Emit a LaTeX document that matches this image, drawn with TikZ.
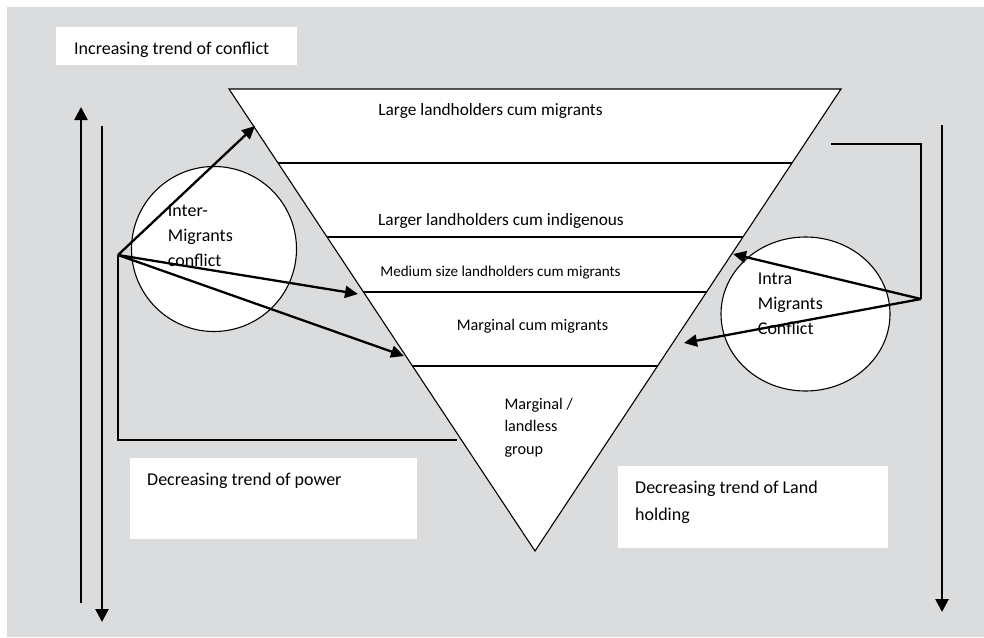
\documentclass[tikz,border=0pt]{standalone}
\usepackage{fontspec}
\setmainfont{Carlito}
\usetikzlibrary{arrows.meta,calc,shapes.geometric}
\definecolor{bg}{RGB}{219,220,222}
\begin{document}
\begin{tikzpicture}[x=1pt,y=-1pt,
  thinln/.style={line width=1.1pt,draw=black},
  bigarr/.style={line width=2.6pt,-{Triangle[length=13pt,width=13pt]}},
  arr/.style={line width=2.3pt,-{Triangle[length=13pt,width=12pt]}},
  wbox/.style={fill=white,draw=none,inner sep=0pt,anchor=north west},
  lbl/.style={inner sep=0pt,anchor=base west,align=left},
  big/.style={font=\fontsize{18}{25}\selectfont},
]
\useasboundingbox (0,0) rectangle (984,637);
\fill[bg] (7,7) rectangle (984,637);

% white text boxes
\node[wbox,minimum width=241pt,minimum height=38pt] (conflictbox) at (56,27) {};
\node[wbox,minimum width=287pt,minimum height=81pt] (powerbox) at (130,458) {};
\node[wbox,minimum width=270pt,minimum height=82pt] (landbox) at (618,466) {};
\node[lbl,big] (conflicttxt) at (74,54) {Increasing trend of conflict};
\node[lbl,big] (powertxt) at (147,485.7) {Decreasing trend of power};
\node[lbl,font=\fontsize{18}{26.7}\selectfont] (landtxt) at (635,520) {Decreasing trend of Land\\holding};

% inverted triangle
\coordinate (tA) at (229,89);
\coordinate (tB) at (841,89);
\coordinate (tC) at (535,551);
\draw[thinln,fill=white] (tA) -- (tB) -- (tC) -- cycle;
\foreach \f/\n in {0.1602/1,0.3203/2,0.4394/3,0.5996/4}{
  \coordinate (l\n a) at ($(tA)!\f!(tC)$);
  \coordinate (l\n b) at ($(tB)!\f!(tC)$);
  \draw[thinln] (l\n a) -- (l\n b);
}
\node[inner sep=0pt,anchor=base,font=\fontsize{17.3}{22}\selectfont] (lay1) at (490.5,115.7) {Large landholders cum migrants};
\node[inner sep=0pt,anchor=base,font=\fontsize{17.3}{22}\selectfont] (lay2) at (501,225.7) {Larger landholders cum indigenous};
\node[inner sep=0pt,anchor=base,font=\fontsize{15.1}{20}\selectfont] (lay3) at (500.5,276.7) {Medium size landholders cum migrants};
\node[inner sep=0pt,anchor=base,font=\fontsize{16.2}{20}\selectfont] (lay4) at (532.5,330) {Marginal cum migrants};
\node[lbl,font=\fontsize{16.2}{22.4}\selectfont] (lay5) at (504.3,454) {Marginal /\\landless\\group};

% circles
\node[draw,line width=1.1pt,fill=white,circle,minimum size=165pt,inner sep=0pt] (interC) at (214,249) {};
\node[draw,line width=1.1pt,fill=white,ellipse,minimum width=169pt,minimum height=154pt,inner sep=0pt] (intraC) at (805.5,314) {};
\node[lbl,big] (intertxt) at (167.7,266) {Inter-\\Migrants\\conflict};
\node[lbl,big] (intratxt) at (757.7,334.3) {Intra\\Migrants\\Conflict};

% vertical trend arrows
\coordinate (upS) at (81,603);
\coordinate (upE) at (81,107);
\coordinate (dnS) at (102,126);
\coordinate (dnE) at (102,622);
\coordinate (rdS) at (942,125);
\coordinate (rdE) at (942,612);
\draw[bigarr] (upS) -- (upE);
\draw[bigarr] (dnS) -- (dnE);
\draw[bigarr] (rdS) -- (rdE);

% left bracket and arrows
\coordinate (o1) at (118,255);
\coordinate (o1c) at (118,440);
\coordinate (o1e) at (457,440);
\draw[thinln] (o1) -- (o1c) -- (o1e);
\coordinate (p1) at (255,126);
\coordinate (p2) at (358,294);
\coordinate (p3) at (404,356);
\draw[arr] (o1) -- (p1);
\draw[arr] (o1) -- (p2);
\draw[arr] (o1) -- (p3);

% right bracket and arrows
\coordinate (o2s) at (831,144);
\coordinate (o2c) at (921,144);
\coordinate (o2) at (921,299);
\draw[thinln] (o2s) -- (o2c) -- (o2);
\coordinate (q1) at (733,254);
\coordinate (q2) at (684,343);
\draw[arr] (o2) -- (q1);
\draw[arr] (o2) -- (q2);
\end{tikzpicture}
\end{document}
